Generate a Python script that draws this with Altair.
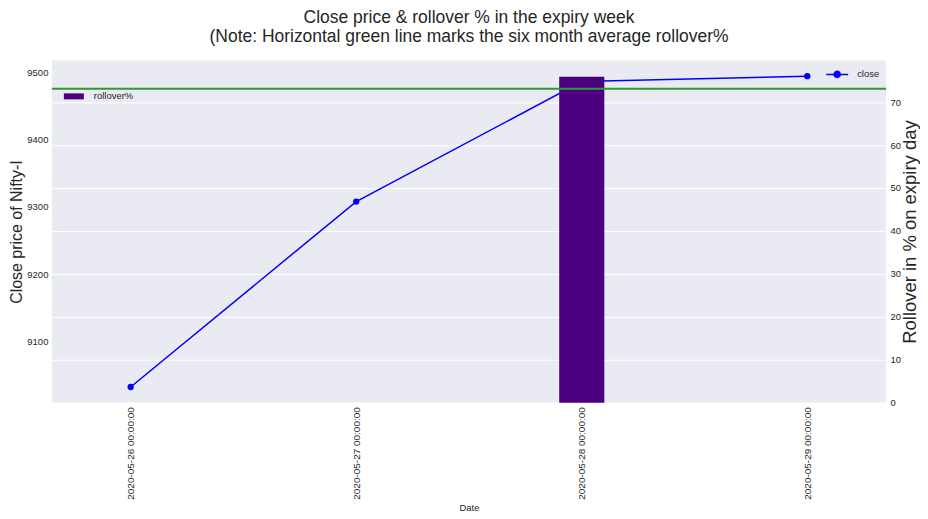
import altair as alt
import pandas as pd

# ---- data ----
dates = ["2020-05-26", "2020-05-27", "2020-05-28", "2020-05-29"]
close = [9033, 9308, 9486, 9494]
rollover_dates = ["2020-05-28"]
rollover = [75.9]
avg_rollover = [73.1]
close_ticks = [9100, 9200, 9300, 9400, 9500]
rollover_ticks = [0, 10, 20, 30, 40, 50, 60, 70]
title_lines = [
    "Close price & rollover % in the expiry week",
    "(Note: Horizontal green line marks the six month average rollover%",
]

FONT = "Liberation Sans"
TXT = "#262626"


def utc_iso(ts):
    return ts.strftime("%Y-%m-%dT%H:%M:%SZ")


def dt(s, h=0, m=0):
    y, mo, d = map(int, s.split("-"))
    return alt.DateTime(year=y, month=mo, date=d, hours=h, minutes=m, utc=True)


line_df = pd.DataFrame({
    "date": [d + "T00:00:00Z" for d in dates],
    "close": close,
    "series": ["close"] * len(dates),
})
half = pd.Timedelta(hours=2.4)
rd = pd.to_datetime(rollover_dates)
bar_df = pd.DataFrame({
    "start": [utc_iso(t - half) for t in rd],
    "end": [utc_iso(t + half) for t in rd],
    "rollover": rollover,
    "series": ["rollover%"] * len(rollover),
})
avg_df = pd.DataFrame({"avg": avg_rollover})

x_scale = alt.Scale(type="utc", domain=[dt("2020-05-25", 15, 37), dt("2020-05-29", 8, 23)])
x_axis = alt.Axis(
    values=[dt(d) for d in dates],
    labelExpr="utcFormat(datum.value, '%Y-%m-%d %H:%M:%S')",
    labelAngle=270,
    grid=False, ticks=False, domain=False,
    labelFontSize=10, labelPadding=4, labelColor=TXT,
    title="Date", titleFontSize=9.5, titleFontWeight="normal", titleColor=TXT,
    titlePadding=3,
)

left_title = "Close price of Nifty-I"
y_left_scale = alt.Scale(domain=[9009.7, 9517.3], nice=False, zero=False)
y_left_axis = alt.Axis(
    orient="left", values=close_ticks, format="d", grid=False, ticks=False, domain=False,
    labelFontSize=9.5, labelPadding=4, labelColor=TXT,
    titleFontSize=16, titleFontWeight="normal", titleColor=TXT, titlePadding=2,
)

right_title = "Rollover in % on expiry day"
y_right_scale = alt.Scale(domain=[0, 79.7], nice=False)
y_right_axis = alt.Axis(
    orient="right", values=rollover_ticks, format="d", grid=True, gridColor="white",
    gridWidth=1, ticks=False, domain=False,
    labelFontSize=9.5, labelPadding=4, labelColor=TXT,
    titleFontSize=18.5, titleFontWeight="normal", titleColor=TXT, titlePadding=0,
    titleAngle=270, titleBaseline="top",
)

line = alt.Chart(line_df).mark_line(strokeWidth=1.5).encode(
    x=alt.X("date:T", scale=x_scale, axis=x_axis),
    y=alt.Y("close:Q", scale=y_left_scale, axis=y_left_axis, title=left_title),
    stroke=alt.Stroke(
        "series:N",
        scale=alt.Scale(domain=["close"], range=["#0000FF"]),
        legend=alt.Legend(
            title=None, orient="none", legendX=775, legendY=2, padding=0,
            symbolType="M-1,0H1M-0.28,0A0.28,0.28,0,1,1,0.28,0A0.28,0.28,0,1,1,-0.28,0Z",
            symbolSize=484, symbolStrokeWidth=1.5, symbolFillColor="#0000FF",
            labelFontSize=9.5, labelColor=TXT, labelOffset=8, labelFont=FONT,
        ),
    ),
)
points = alt.Chart(line_df).mark_circle(color="#0000FF", size=40, opacity=1).encode(
    x=alt.X("date:T", scale=x_scale, axis=x_axis),
    y=alt.Y("close:Q", scale=y_left_scale, axis=y_left_axis, title=left_title),
)

bar = alt.Chart(bar_df).mark_bar().encode(
    x=alt.X("start:T", scale=x_scale, axis=x_axis),
    x2="end:T",
    y=alt.Y("rollover:Q", scale=y_right_scale, axis=y_right_axis, title=right_title),
    y2=alt.datum(0),
    fill=alt.Fill(
        "series:N",
        scale=alt.Scale(domain=["rollover%"], range=["#4B0082"]),
        legend=alt.Legend(
            title=None, orient="none", legendX=12, legendY=26, padding=0,
            symbolType="M-1,-0.3H1V0.3H-1Z", symbolSize=400, symbolStrokeWidth=0,
            labelFontSize=9.5, labelColor=TXT, labelOffset=10, labelFont=FONT,
        ),
    ),
)
rule = alt.Chart(avg_df).mark_rule(color="#2f9a2f", strokeWidth=2).encode(
    y=alt.Y("avg:Q", scale=y_right_scale, axis=y_right_axis, title=right_title),
)

left = alt.layer(line, points)
right = alt.layer(bar, rule)

chart = (
    alt.layer(left, right)
    .resolve_scale(y="independent")
    .properties(
        width=836,
        height=343,
        padding={"left": 0, "top": 0, "right": 0, "bottom": 0},
        background="white",
        title=alt.Title(
            title_lines, fontSize=17.5, font=FONT, fontWeight="normal", color=TXT,
            anchor="middle", offset=9, lineHeight=19, dy=-6,
        ),
    )
    .configure_view(fill="#EAEAF2", strokeWidth=0)
    .configure_axis(labelFont=FONT, titleFont=FONT)
    .configure_legend(labelFont=FONT)
)

chart.save("out.html", embed_options={"renderer": "svg", "actions": False})
